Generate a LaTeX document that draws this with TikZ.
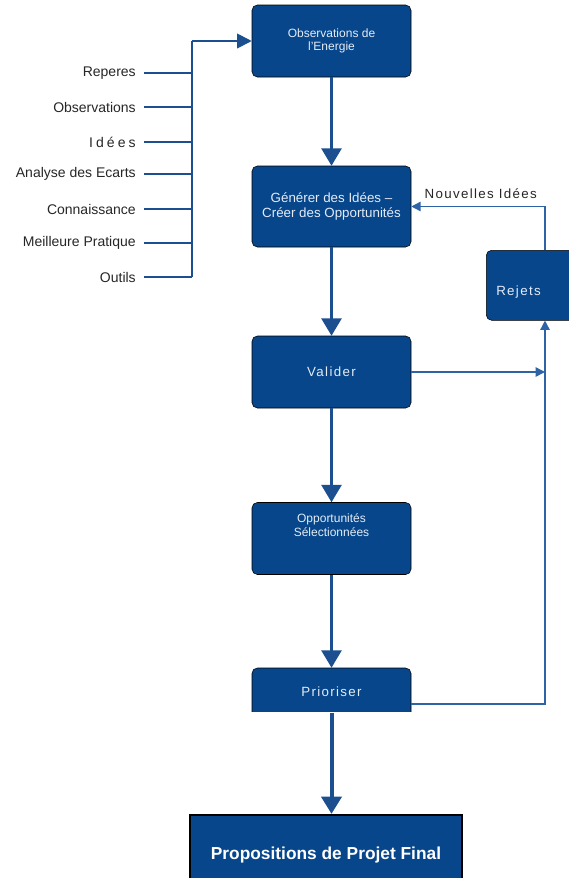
\documentclass[tikz,border=0pt]{standalone}
\usepackage{fontspec}
\setmainfont{Liberation Sans}
\newfontfamily\spaced[LetterSpace=10]{Liberation Sans}
\newfontfamily\widespaced[LetterSpace=22]{Liberation Sans}
\usetikzlibrary{arrows.meta,positioning}
\definecolor{boxblue}{HTML}{07468A}
\definecolor{lineblue}{HTML}{1B4F8F}
\definecolor{loopblue}{HTML}{2E63A6}
\definecolor{boxtext}{HTML}{E4ECF6}

\begin{document}
\begin{tikzpicture}[x=0.75pt,y=-0.75pt,
  stage/.style={draw=black,fill=boxblue,rounded corners=4pt,text=boxtext,minimum width=119.25pt,minimum height=54pt,align=center,font=\fontsize{9}{10}\selectfont},
  flow/.style={color=lineblue,line width=1.8pt,-{Triangle[width=15pt,length=13pt]}},
  loop/.style={color=loopblue,line width=1.1pt,-{Triangle[width=7pt,length=7pt]}},
  feed/.style={color=lineblue,line width=1.4pt},
  src/.style={anchor=east,text=black!85,font=\fontsize{10.5}{12}\selectfont,inner xsep=6pt}]

\useasboundingbox (0,0) rectangle (568,878);

% main column
\node[stage] (obs) at (331.5,41) {Observations de\\l'Energie};
\node[stage, minimum height=60.75pt, font=\fontsize{10}{11.5}\selectfont] (gen) at (331.5,206.5) {Générer des Idées --\\Créer des Opportunités};
\node[stage, font=\fontsize{10}{11}\selectfont\spaced] (val) at (331.5,372) {Valider};
\node[stage] (opp) at (331.5,538.5) {Opportunités\\Sélectionnées\\[10pt]};
\begin{scope}
  \clip (240,660) rectangle (420,711);
  \node[stage] (prio) at (331.5,704) {};
\end{scope}
\node[text=boxtext,font=\fontsize{10}{11}\selectfont\spaced] (priolbl) at (331.5,692) {Prioriser};
\coordinate (priocut) at (331.5,713);
\node[draw=black,line width=1.6pt,fill=boxblue,text=white,minimum width=204pt,minimum height=60pt,font=\bfseries\fontsize{13}{15}\selectfont] (final) at (326,855) {Propositions de Projet Final};

% rejects on the right
\node[stage, anchor=north west, align=left, text width=52.5pt, text height=16pt, text depth=0pt, inner xsep=7.5pt, minimum width=0pt, minimum height=52.5pt, font=\fontsize{10}{11}\selectfont\spaced] (rej) at (486,250) {Rejets};
\coordinate (loopx) at (545,0);

\path[flow] (obs) edge (gen) (gen) edge (val) (val) edge (opp) (opp) edge (prio.north);
\draw[flow, line width=3pt] (priocut) -- (priocut |- final.north);

\draw[loop] (val.east) -- (val.east -| loopx);
\draw[loop] (prio.east) -| (rej.south -| loopx);
\draw[loop] (rej.north -| loopx) |- (gen.east)
  node[pos=0.74, above, inner sep=5pt, text=black!85, font=\fontsize{10}{11}\selectfont\spaced] {Nouvelles Idées};

% inputs on the left
\coordinate (bus) at (192,41);
\draw[feed] (192,277) -- (bus);
\draw[feed, -{Triangle[width=11pt,length=11pt]}] (bus) -- (obs.west);
\foreach \name/\y/\txt in {rep/73/Reperes, obsv/107/Observations, ide/142/{\widespaced Idées},
    ana/174/Analyse des Ecarts, con/209/Connaissance, mei/243/Meilleure Pratique, out/277/Outils} {
  \node[src] (\name) at (144,\y) {\txt};
  \draw[feed] (\name.east) -- (\name.east -| bus);
}
\end{tikzpicture}
\end{document}
